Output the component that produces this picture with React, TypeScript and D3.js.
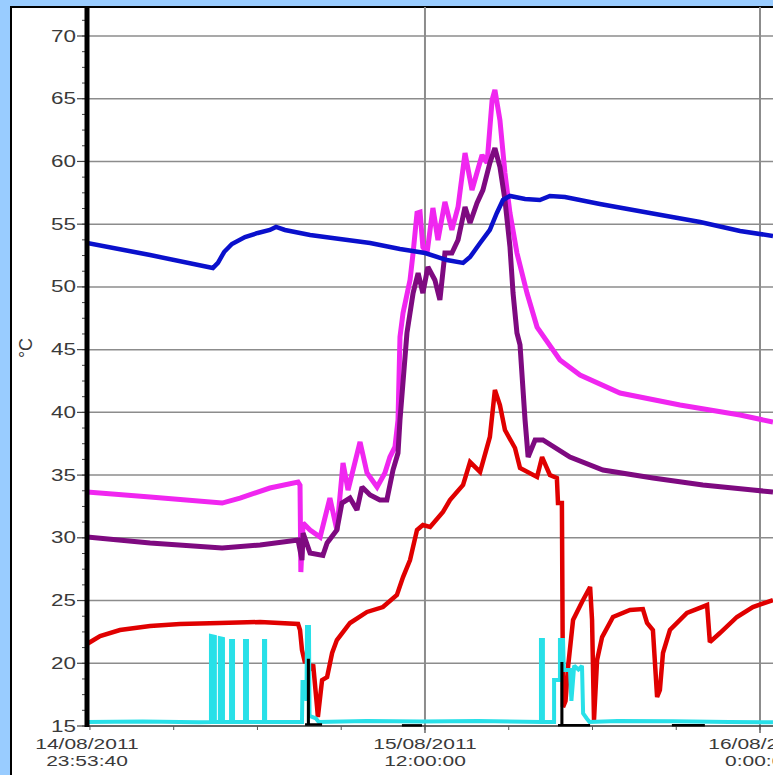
import React from "react";
import * as d3 from "d3";

// time in hours elapsed since 14/08/2011 23:53:40, value in °C
const blueSeries: [number, number][] = [
  [0, 53.5], [2.26, 52.54], [4.51, 51.51], [4.69, 51.91], [4.91, 52.78], [5.19, 53.42], [5.66, 53.98],
  [6.12, 54.3], [6.55, 54.54], [6.77, 54.78], [7.09, 54.54], [7.99, 54.14], [9.06, 53.82], [10.14, 53.5],
  [11.21, 53.02], [12.11, 52.7], [12.89, 52.14], [13.47, 51.91], [13.72, 52.38], [14.08, 53.5],
  [14.43, 54.54], [14.68, 55.89], [14.9, 56.93], [15.15, 57.25], [15.69, 57.01], [16.22, 56.93],
  [16.58, 57.25], [17.12, 57.17], [18.37, 56.61], [20.16, 55.89], [21.96, 55.17], [23.39, 54.46], [24.57, 54.06],
];

const magentaSeries: [number, number][] = [
  [0, 33.65], [2.26, 33.25], [4.84, 32.77], [5.48, 33.17], [6.55, 33.97], [7.56, 34.45], [7.63, 34.2],
  [7.66, 27.27], [7.74, 31.18], [7.99, 30.62], [8.35, 30.06], [8.7, 33.17], [8.95, 30.62], [9.17, 35.96],
  [9.35, 33.81], [9.78, 37.64], [10.03, 35.17], [10.39, 34.05], [10.67, 35.17], [10.85, 36.44],
  [11.03, 37.24], [11.14, 39.39], [11.21, 46.01], [11.32, 47.92], [11.57, 50.55], [11.68, 52.7],
  [11.82, 55.89], [11.93, 55.97], [12.03, 53.18], [12.18, 52.7], [12.39, 56.29], [12.57, 53.74],
  [12.82, 56.77], [13.07, 54.54], [13.29, 56.37], [13.54, 60.67], [13.79, 57.72], [14.15, 60.51],
  [14.33, 59.88], [14.51, 64.9], [14.61, 65.7], [14.79, 63.3], [14.97, 59.08], [15.15, 55.89],
  [15.4, 52.7], [15.76, 49.51], [16.12, 46.8], [16.94, 44.17], [17.66, 42.98], [19.09, 41.54],
  [21.24, 40.59], [23.39, 39.79], [24.57, 39.23],
];

const purpleSeries: [number, number][] = [
  [0, 30.06], [2.26, 29.59], [4.84, 29.19], [6.2, 29.43], [7.56, 29.82], [7.7, 28.23], [7.74, 30.38],
  [7.99, 28.79], [8.45, 28.6], [8.6, 29.59], [8.95, 30.62], [9.13, 32.77], [9.42, 33.17], [9.67, 32.22],
  [9.85, 34.05], [10.14, 33.41], [10.49, 33.01], [10.74, 33.01], [10.96, 35.4], [11.14, 36.76],
  [11.21, 39.39], [11.46, 46.33], [11.68, 49.51], [11.86, 51.11], [12.03, 49.51], [12.21, 51.59],
  [12.46, 50.55], [12.64, 48.96], [12.82, 52.7], [13.07, 52.7], [13.29, 53.74], [13.54, 56.37],
  [13.72, 55.09], [13.97, 56.69], [14.18, 57.72], [14.43, 59.88], [14.61, 61.07], [14.79, 59.56],
  [14.97, 56.93], [15.15, 53.18], [15.26, 49.51], [15.4, 46.33], [15.51, 45.37], [15.69, 39.39],
  [15.8, 36.44], [16.05, 37.8], [16.33, 37.8], [17.3, 36.44], [18.48, 35.4], [20.27, 34.77],
  [22.06, 34.21], [23.85, 33.81], [24.57, 33.65],
];

const redSeries: [number, number][] = [
  [0, 21.54], [0.47, 22.17], [1.18, 22.65], [2.26, 22.97], [3.33, 23.13], [4.76, 23.21], [6.2, 23.29],
  [7.56, 23.13], [7.63, 22.65], [7.7, 21.06], [7.81, 20.02], [7.88, 20.26], [7.99, 19.46], [8.1, 19.9],
  [8.24, 16.51], [8.27, 15.71], [8.42, 18.66], [8.6, 18.9], [8.78, 20.82], [8.95, 21.85], [9.42, 23.21],
  [10.03, 24.09], [10.6, 24.48], [11.1, 25.44], [11.32, 26.87], [11.57, 28.23], [11.82, 30.62],
  [12.03, 31.02], [12.29, 30.86], [12.75, 32.06], [13.0, 33.01], [13.47, 34.21], [13.72, 36.04],
  [14.08, 35.25], [14.43, 38.04], [14.61, 41.78], [14.79, 40.59], [14.97, 38.59], [15.33, 37.16],
  [15.51, 35.56], [16.12, 34.85], [16.3, 36.44], [16.58, 35.01], [16.83, 34.77], [16.87, 32.77],
  [17.01, 32.77], [17.05, 16.51], [17.14, 17.0], [17.23, 19.7], [17.41, 23.45], [17.73, 24.88],
  [18.02, 26.08], [18.09, 23.45], [18.16, 15.48], [18.27, 20.26], [18.45, 22.09], [18.84, 23.69],
  [19.45, 24.25], [19.91, 24.32], [20.06, 23.21], [20.27, 22.65], [20.42, 17.31], [20.52, 17.87],
  [20.63, 20.82], [20.88, 22.65], [21.49, 24.01], [22.21, 24.64], [22.31, 21.69], [22.67, 22.41],
  [23.28, 23.69], [23.85, 24.48], [24.57, 25.04],
];

const cyanSeries: [number, number][] = [
  [0, 15.32], [2.0, 15.36], [4.0, 15.3],
  [4.44, 15.32], [4.44, 22.17], [4.58, 22.1], [4.58, 15.32],
  [4.76, 15.32], [4.76, 22.0], [4.87, 21.95], [4.87, 15.32],
  [5.16, 15.32], [5.16, 21.77], [5.23, 21.77], [5.23, 15.32],
  [5.66, 15.32], [5.66, 21.77], [5.73, 21.77], [5.73, 15.32],
  [6.34, 15.32], [6.34, 21.77], [6.38, 21.77], [6.38, 15.32],
  [7.7, 15.32], [7.72, 18.5], [7.81, 18.5], [7.86, 17.0], [7.88, 22.9], [7.95, 22.9], [7.97, 15.8],
  [8.2, 15.6], [8.3, 15.32], [10.0, 15.4], [12.0, 15.35], [14.0, 15.4], [16.26, 15.32],
  [16.26, 21.85], [16.33, 21.85], [16.33, 15.32],
  [16.73, 15.32], [16.73, 18.66], [16.94, 18.66], [16.94, 21.85], [17.05, 21.85], [17.08, 19.46],
  [17.3, 19.46], [17.35, 17.0], [17.45, 19.8], [17.6, 19.5], [17.73, 19.8], [17.77, 16.0],
  [17.9, 15.6], [18.0, 15.32], [19.0, 15.4], [21.0, 15.38], [23.0, 15.32], [24.57, 15.3],
];

const blackSegments: [number, number][][] = [
  [[7.81, 15.12], [7.92, 15.12], [7.92, 20.26], [7.94, 20.26], [7.94, 15.12], [8.42, 15.12]],
  [[11.28, 15.05], [12.0, 15.05]],
  [[16.87, 15.05], [17.0, 15.05], [17.0, 20.0], [17.02, 20.0], [17.02, 15.05], [18.02, 15.05]],
  [[20.95, 15.05], [22.13, 15.05]],
];

const yTickValues = [15, 20, 25, 30, 35, 40, 45, 50, 55, 60, 65, 70];
const xTickLabels: [string, string][] = [
  ["14/08/2011", "23:53:40"],
  ["15/08/2011", "12:00:00"],
  ["16/08/2011", "0:00:00"],
];
const xTickDates = [
  new Date(2011, 7, 14, 23, 53, 40),
  new Date(2011, 7, 15, 12, 0, 0),
  new Date(2011, 7, 16, 0, 0, 0),
];
const yUnit = "°C";

const W = 773;
const H = 775;
const START = xTickDates[0];
const toDate = (h: number) => new Date(START.getTime() + h * 3600000);

const x = d3.scaleTime().domain([xTickDates[0], xTickDates[2]]).range([87, 760]);
const y = d3.scaleLinear().domain([15, 70]).range([726, 36]);
const line = d3
  .line<[number, number]>()
  .x((d) => x(toDate(d[0])))
  .y((d) => y(d[1]));

const PLOT_L = 87;
const PLOT_R = W;
const PLOT_T = 7;
const AXIS_Y = y(15);

const textColor = "#3a3a3a";
const gridColor = "#8c8c8c";
const font = "'Liberation Sans', Arial, sans-serif";
const SX = 1.4;

function SText({ x0, y0, anchor, children, size = 15 }: any) {
  return (
    <g transform={`translate(${x0},${y0}) scale(${SX},1)`}>
      <text x={0} y={0} textAnchor={anchor} fontFamily={font} fontSize={size} fill={textColor}>
        {children}
      </text>
    </g>
  );
}

export default function App() {
  const xEnd = x.invert(PLOT_R);
  const minorX = d3.timeHour.every(3)!.range(START, xEnd);
  const yTop = y.invert(PLOT_T);
  const minorY = d3.range(15, yTop, 1.25);

  const series = [
    { data: magentaSeries, color: "#f026f0", w: 5 },
    { data: purpleSeries, color: "#7e0a80", w: 5 },
    { data: blueSeries, color: "#0a10cc", w: 4.5 },
    { data: redSeries, color: "#e00000", w: 4.5 },
    { data: cyanSeries, color: "#28e0e8", w: 4 },
  ];

  return (
    <svg width={W} height={H} style={{ position: "absolute", left: 0, top: 0, display: "block" }}>
      <defs>
        <clipPath id="plotClip">
          <rect x={PLOT_L} y={PLOT_T} width={PLOT_R - PLOT_L} height={AXIS_Y + 3 - PLOT_T} />
        </clipPath>
      </defs>
      <rect x={0} y={0} width={W} height={H} fill="#99ccff" />
      <rect x={11} y={7} width={W + 20} height={H + 20} fill="#ffffff" stroke="#000" strokeWidth={2} />

      {/* horizontal grid */}
      {yTickValues
        .filter((v) => v > 15)
        .map((v) => (
          <line key={"hg" + v} x1={PLOT_L} x2={PLOT_R} y1={y(v)} y2={y(v)} stroke={gridColor} strokeWidth={1.5} />
        ))}
      {/* vertical grid */}
      {xTickDates.slice(1).map((d, i) => (
        <line key={"vg" + i} x1={x(d)} x2={x(d)} y1={PLOT_T} y2={AXIS_Y + 7} stroke={gridColor} strokeWidth={2} />
      ))}

      {/* x axis */}
      <line x1={PLOT_L} x2={PLOT_R} y1={AXIS_Y} y2={AXIS_Y} stroke="#333" strokeWidth={1.5} />
      {minorX.map((d, i) => (
        <line key={"mx" + i} x1={x(d)} x2={x(d)} y1={AXIS_Y} y2={AXIS_Y + 4} stroke="#555" strokeWidth={1} />
      ))}

      {/* series */}
      <g clipPath="url(#plotClip)">
        {series.map((s, i) => (
          <path key={"s" + i} d={line(s.data) || ""} fill="none" stroke={s.color} strokeWidth={s.w} strokeLinejoin="miter" strokeMiterlimit={2} />
        ))}
        {blackSegments.map((seg, i) => (
          <path key={"b" + i} d={line(seg) || ""} fill="none" stroke="#000" strokeWidth={2.5} />
        ))}
      </g>

      {/* y axis */}
      {minorY.map((v, i) => (
        <line key={"my" + i} x1={PLOT_L - 5} x2={PLOT_L} y1={y(v)} y2={y(v)} stroke="#444" strokeWidth={1} />
      ))}
      {yTickValues.map((v) => (
        <line key={"ty" + v} x1={PLOT_L - 10} x2={PLOT_L} y1={y(v)} y2={y(v)} stroke="#444" strokeWidth={1.2} />
      ))}
      <line x1={PLOT_L} x2={PLOT_L} y1={PLOT_T} y2={AXIS_Y + 1} stroke="#000" strokeWidth={5} />

      {yTickValues.map((v) => (
        <SText key={"yl" + v} x0={76} y0={y(v) + 5.5} anchor="end" size={16}>
          {String(v)}
        </SText>
      ))}
      <g transform={`translate(32,348) rotate(-90)`}>
        <text x={0} y={0} textAnchor="middle" fontFamily={font} fontSize={18} fill={textColor}>
          {yUnit}
        </text>
      </g>

      {xTickDates.map((d, i) => (
        <g key={"xl" + i}>
          <SText x0={x(d)} y0={749} anchor="middle">
            {xTickLabels[i][0]}
          </SText>
          <SText x0={x(d)} y0={766} anchor="middle">
            {xTickLabels[i][1]}
          </SText>
        </g>
      ))}
    </svg>
  );
}
